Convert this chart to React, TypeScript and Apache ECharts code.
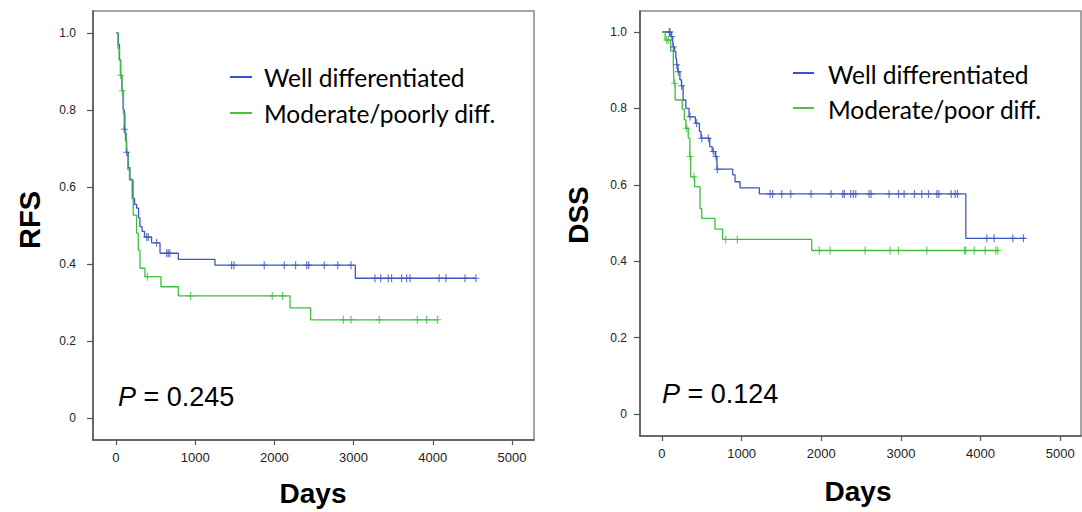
import React, { useEffect, useRef } from "react";
import * as echarts from "echarts";

// ---- RFS (left) ----
const rfsWellDays = [0, 30, 45, 60, 75, 90, 105, 120, 135, 155, 177, 206, 235, 261, 285, 303, 330, 360, 450, 556, 787, 1250, 3022, 4545];
const rfsWellSurv = [1.0, 0.97, 0.93, 0.89, 0.85, 0.8, 0.75, 0.72, 0.69, 0.65, 0.62, 0.57, 0.555, 0.545, 0.52, 0.497, 0.485, 0.47, 0.455, 0.428, 0.412, 0.397, 0.363, 0.363];
const rfsWellCensor = [105, 135, 388, 408, 513, 640, 660, 680, 1460, 1490, 1872, 2125, 2268, 2408, 2433, 2630, 2800, 2967, 3270, 3342, 3438, 3480, 3606, 3670, 3712, 4080, 4167, 4407, 4545];

const rfsModDays = [0, 25, 40, 55, 75, 95, 115, 130, 150, 170, 218, 260, 282, 303, 366, 568, 787, 2197, 2458, 4062];
const rfsModSurv = [1.0, 0.96, 0.93, 0.89, 0.85, 0.79, 0.74, 0.69, 0.645, 0.618, 0.527, 0.48, 0.436, 0.389, 0.367, 0.341, 0.317, 0.286, 0.255, 0.255];
const rfsModCensor = [59, 80, 397, 943, 1973, 2105, 2870, 2967, 3325, 3805, 3923, 4062];

// ---- DSS (right) ----
const dssWellDays = [0, 115, 135, 142, 160, 175, 184, 200, 225, 245, 265, 300, 340, 420, 470, 490, 600, 630, 670, 690, 888, 917, 980, 1223, 3815, 4560];
const dssWellSurv = [1.0, 0.988, 0.975, 0.961, 0.948, 0.93, 0.914, 0.896, 0.875, 0.859, 0.822, 0.8, 0.778, 0.761, 0.74, 0.722, 0.7, 0.687, 0.674, 0.641, 0.626, 0.608, 0.592, 0.576, 0.46, 0.46];
const dssWellCensor = [92, 100, 122, 142, 184, 205, 247, 352, 436, 499, 582, 645, 678, 695, 1357, 1390, 1504, 1617, 1872, 2123, 2270, 2290, 2370, 2403, 2433, 2600, 2626, 2852, 2969, 3040, 3170, 3262, 3346, 3451, 3476, 3631, 3681, 3710, 4078, 4170, 4405, 4539];

const dssModDays = [0, 40, 110, 142, 150, 165, 255, 280, 300, 330, 350, 361, 410, 477, 499, 666, 762, 1880, 4220];
const dssModSurv = [1.0, 0.979, 0.95, 0.918, 0.866, 0.822, 0.798, 0.77, 0.748, 0.722, 0.674, 0.621, 0.595, 0.538, 0.512, 0.484, 0.457, 0.428, 0.428];
const dssModCensor = [59, 80, 160, 310, 352, 402, 800, 946, 1976, 2111, 2550, 2864, 2969, 3326, 3800, 3815, 3920, 4058, 4192, 4217];

const yTicks = [0, 0.2, 0.4, 0.6, 0.8, 1.0];
const xTicks = [0, 1000, 2000, 3000, 4000, 5000];
const legendLabels = ["Well differentiated", "Moderate/poorly diff.", "Moderate/poor diff."];

const BLUE = "#3d58bd";
const GREEN = "#3fbf3f";
const LEG_BLUE = "#2f55d4";
const LEG_GREEN = "#4cc23a";

const zip = (d: number[], s: number[]) => d.map((v, i) => [v, s[i]]);
const survAt = (d: number[], s: number[], t: number) => {
  let v = s[0];
  for (let i = 0; i < d.length; i++) if (d[i] <= t) v = s[i];
  return v;
};
const censorPts = (d: number[], s: number[], c: number[]) => c.map((t) => [t, survAt(d, s, t)]);

const CROSS = "path://M2.5,0H3.5V3.5H6V4.5H3.5V8H2.5V4.5H0V3.5H2.5Z";

export default function App() {
  const ref = useRef<HTMLDivElement>(null);
  useEffect(() => {
    if (!ref.current) return;
    const chart = echarts.init(ref.current, undefined, { renderer: "svg" });
    const tickFont = { fontFamily: "Liberation Sans", fontSize: 12, color: "#222" };
    const mkX = (gi: number, min: number, max: number) => ({
      type: "value",
      gridIndex: gi,
      min,
      max,
      axisLine: { show: true, onZero: false, lineStyle: { color: "#555", width: 1.5 } },
      axisTick: { show: true, customValues: xTicks, length: 5, lineStyle: { color: "#555", width: 1.2 } },
      axisLabel: { customValues: xTicks, margin: 11, ...tickFont, fontSize: 13, formatter: (v: number) => String(v) },
      splitLine: { show: false },
    });
    const mkY = (gi: number, min: number, max: number, margin: number) => ({
      type: "value",
      gridIndex: gi,
      min,
      max,
      axisLine: { show: true, onZero: false, lineStyle: { color: "#555", width: 1.5 } },
      axisTick: { show: true, customValues: yTicks, length: 6, lineStyle: { color: "#555", width: 1.2 } },
      axisLabel: {
        customValues: yTicks,
        margin,
        ...tickFont,
        formatter: (v: number) => (v === 0 ? "0" : v.toFixed(1)),
      },
      splitLine: { show: false },
    });
    const line = (name: string, xi: number, data: number[][], color: string) => ({
      name,
      type: "line",
      xAxisIndex: xi,
      yAxisIndex: xi,
      step: "end",
      showSymbol: false,
      data,
      lineStyle: { color, width: 1.3 },
      itemStyle: { color },
      z: 2,
    });
    const cens = (name: string, xi: number, data: number[][], color: string) => ({
      name,
      type: "scatter",
      xAxisIndex: xi,
      yAxisIndex: xi,
      data,
      symbol: CROSS,
      symbolSize: [7, 8],
      itemStyle: { color },
      z: 3,
    });
    const txt = (x: number, y: number, text: string, extra: any = {}) => ({
      type: "text",
      x,
      y,
      style: {
        text,
        fontFamily: "Liberation Sans",
        fontSize: 22,
        fill: "#000",
        verticalAlign: "middle",
        ...extra,
      },
    });
    const seg = (x1: number, x2: number, y: number, color: string) => ({
      type: "line",
      shape: { x1, y1: y, x2, y2: y },
      style: { stroke: color, lineWidth: 2 },
    });
    const pText = (x: number, y: number, val: string) => ({
      type: "text",
      x,
      y,
      style: {
        text: "{i|P} = " + val,
        fontFamily: "Liberation Sans",
        fontSize: 27,
        fill: "#000",
        verticalAlign: "middle",
        rich: { i: { fontStyle: "italic", fontFamily: "Liberation Sans", fontSize: 27, fill: "#000" } },
      },
    });
    const legFont = { fontFamily: "Lato", fontSize: 24.5 };

    chart.setOption({
      animation: false,
      grid: [
        { left: 93, top: 11, width: 441, height: 429, show: true, borderColor: "#888", borderWidth: 1.5 },
        { left: 640, top: 11, width: 441, height: 425, show: true, borderColor: "#888", borderWidth: 1.5 },
      ],
      xAxis: [mkX(0, -290, 5278), mkX(1, -276, 5261)],
      yAxis: [mkY(0, -0.057, 1.057, 17), mkY(1, -0.0576, 1.055, 13)],
      series: [
        line(legendLabels[0], 0, zip(rfsWellDays, rfsWellSurv), BLUE),
        line(legendLabels[1], 0, zip(rfsModDays, rfsModSurv), GREEN),
        cens("rfs-well-censored", 0, censorPts(rfsWellDays, rfsWellSurv, rfsWellCensor), BLUE),
        cens("rfs-mod-censored", 0, censorPts(rfsModDays, rfsModSurv, rfsModCensor), GREEN),
        line(legendLabels[0] + " ", 1, zip(dssWellDays, dssWellSurv), BLUE),
        line(legendLabels[2], 1, zip(dssModDays, dssModSurv), GREEN),
        cens("dss-well-censored", 1, censorPts(dssWellDays, dssWellSurv, dssWellCensor), BLUE),
        cens("dss-mod-censored", 1, censorPts(dssModDays, dssModSurv, dssModCensor), GREEN),
      ],
      graphic: [
        seg(230, 252, 77, LEG_BLUE),
        seg(230, 252, 113, LEG_GREEN),
        txt(264, 77, legendLabels[0], legFont),
        txt(264, 113, legendLabels[1], legFont),
        seg(793, 814, 73, LEG_BLUE),
        seg(793, 814, 108, LEG_GREEN),
        txt(828, 74, legendLabels[0], legFont),
        txt(828, 109, legendLabels[2], legFont),
        pText(118, 397, "0.245"),
        pText(662, 394, "0.124"),
        {
          type: "text",
          x: 30,
          y: 220,
          rotation: Math.PI / 2,
          style: { text: "RFS", fontFamily: "Liberation Sans", fontWeight: "bold", fontSize: 29, fill: "#000", align: "center", verticalAlign: "middle" },
        },
        {
          type: "text",
          x: 578,
          y: 215,
          rotation: Math.PI / 2,
          style: { text: "DSS", fontFamily: "Liberation Sans", fontWeight: "bold", fontSize: 28, fill: "#000", align: "center", verticalAlign: "middle" },
        },
        {
          type: "text",
          x: 313,
          y: 493,
          style: { text: "Days", fontFamily: "Liberation Sans", fontWeight: "bold", fontSize: 28, fill: "#000", align: "center", verticalAlign: "middle" },
        },
        {
          type: "text",
          x: 858,
          y: 491,
          style: { text: "Days", fontFamily: "Liberation Sans", fontWeight: "bold", fontSize: 28, fill: "#000", align: "center", verticalAlign: "middle" },
        },
      ],
    });
    return () => chart.dispose();
  }, []);
  return <div ref={ref} style={{ position: "absolute", left: 0, top: 0, width: 1082, height: 512, background: "#fff" }} />;
}
